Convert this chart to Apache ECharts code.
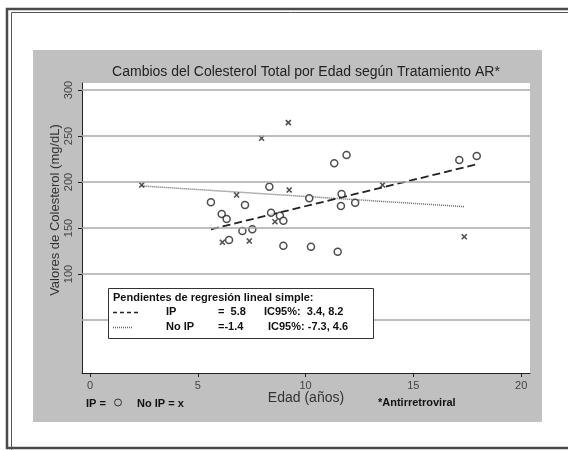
<!DOCTYPE html>
<html>
<head>
<meta charset="utf-8">
<script src="https://cdn.jsdelivr.net/npm/echarts@6/dist/echarts.min.js"></script>
<style>
  html, body { margin: 0; padding: 0; background: #fff; }
  #chart { width: 568px; height: 450px; }
</style>
</head>
<body>
<div id="chart"></div>
<script>
// puntos IP (circulos)
var ipAge  = [8.32, 10.17, 5.61, 7.19, 6.11, 6.34, 8.4, 8.81, 8.97, 7.07, 7.53, 6.45, 8.97, 10.25, 11.9, 11.33, 17.13, 17.94, 11.67, 11.64, 12.3, 11.49];
var ipChol = [194.9, 182.3, 177.9, 175, 165.2, 159.8, 166.6, 163.4, 157.9, 146.7, 148.6, 137, 130.8, 129.7, 229.3, 220.3, 223.9, 228.3, 187, 173.9, 177.5, 124.2];
// puntos No IP (x)
var noIpAge  = [9.2, 7.96, 2.4, 9.24, 6.8, 8.58, 6.14, 7.39, 13.57, 17.36];
var noIpChol = [264.5, 247.5, 196.7, 191.3, 185.9, 156.8, 134.5, 135.9, 196.7, 140.5];
// rectas de regresion (extremos)
var ipFitAge = [5.61, 17.94];
var ipFitChol = [148.6, 219.2];
var noIpFitAge = [2.4, 17.36];
var noIpFitChol = [195.7, 173.2];
// ejes
var xTicks = [0, 5, 10, 15, 20];
var yTicks = [100, 150, 200, 250, 300];
var yGrid = [50, 100, 150, 200, 250, 300];

function pairs(a, b) {
  var out = [];
  for (var i = 0; i < a.length; i++) out.push([a[i], b[i]]);
  return out;
}

var FONT = 'Liberation Sans, Arial, sans-serif';
var myChart = echarts.init(document.getElementById('chart'));

var gridLines = [];
for (var i = 0; i < yGrid.length; i++) gridLines.push({ yAxis: yGrid[i] });

var option = {
  animation: false,
  backgroundColor: '#fff',
  grid: { left: 82, top: 83, width: 448, height: 290, show: true, backgroundColor: '#fff', borderWidth: 0 },
  xAxis: {
    type: 'value', min: -0.37, max: 20.41,
    splitLine: { show: false },
    axisLine: { onZero: false, lineStyle: { color: '#222', width: 1 } },
    axisTick: { customValues: xTicks, length: 4, lineStyle: { color: '#222' } },
    axisLabel: { customValues: xTicks, color: '#444', fontSize: 11, fontFamily: FONT, margin: 7 }
  },
  yAxis: {
    type: 'value', min: -7.6, max: 307.6,
    splitLine: { show: false },
    axisLine: { show: true, onZero: false, lineStyle: { color: '#222', width: 1 } },
    axisTick: { show: true, customValues: yTicks, length: 4, lineStyle: { color: '#222' } },
    axisLabel: { customValues: yTicks, rotate: 90, color: '#444', fontSize: 11, fontFamily: FONT, margin: 8 }
  },
  series: [
    {
      type: 'line', data: [], silent: true,
      markLine: {
        silent: true, symbol: 'none', label: { show: false },
        lineStyle: { color: '#a8a8a8', width: 1.5, type: 'solid' },
        data: gridLines
      }
    },
    {
      type: 'line', data: pairs(noIpFitAge, noIpFitChol), showSymbol: false, z: 3,
      lineStyle: { color: '#666', width: 1.5, type: [1, 1] }
    },
    {
      type: 'line', data: pairs(ipFitAge, ipFitChol), showSymbol: false, z: 3,
      lineStyle: { color: '#222', width: 1.8, type: [8, 4] }
    },
    {
      type: 'scatter', data: pairs(ipAge, ipChol), symbol: 'circle', symbolSize: 7, z: 4,
      itemStyle: { color: '#fff', borderColor: '#222', borderWidth: 1.5 }
    },
    {
      type: 'scatter', data: pairs(noIpAge, noIpChol), symbol: 'path://M0,0L10,10M10,0L0,10', symbolSize: 5, z: 4,
      itemStyle: { color: 'none', borderColor: '#222', borderWidth: 1.6 }
    }
  ],
  graphic: [
    { type: 'rect', z: -10, shape: { x: 7, y: 9, width: 600, height: 439 }, style: { fill: '#fff', stroke: '#4a4a4a', lineWidth: 2.5 } },
    { type: 'rect', z: -10, shape: { x: 11.5, y: 12.5, width: 600, height: 460 }, style: { fill: 'none', stroke: '#555', lineWidth: 1 } },
    { type: 'rect', z: -9, shape: { x: 33, y: 50, width: 509, height: 372 }, style: { fill: '#c0c0c0' } },
    { type: 'text', x: 306, y: 72, style: { text: 'Cambios del Colesterol Total por Edad según Tratamiento AR*', font: '14px ' + FONT, fill: '#222', align: 'center', verticalAlign: 'middle' } },
    { type: 'text', x: 55, y: 210, rotation: Math.PI / 2, style: { text: 'Valores de Colesterol (mg/dL)', font: '13px ' + FONT, fill: '#333', align: 'center', verticalAlign: 'middle' } },
    { type: 'text', x: 306, y: 398, style: { text: 'Edad (años)', font: '14px ' + FONT, fill: '#333', align: 'center', verticalAlign: 'middle' } },
    { type: 'text', x: 86, y: 404, style: { text: 'IP =', font: 'bold 11px ' + FONT, fill: '#111', verticalAlign: 'middle' } },
    { type: 'circle', shape: { cx: 118, cy: 402.5, r: 3.5 }, style: { fill: 'none', stroke: '#333', lineWidth: 1 } },
    { type: 'text', x: 137, y: 404, style: { text: 'No IP = x', font: 'bold 11px ' + FONT, fill: '#111', verticalAlign: 'middle' } },
    { type: 'text', x: 378, y: 403, style: { text: '*Antirretroviral', font: 'bold 11px ' + FONT, fill: '#111', verticalAlign: 'middle' } },
    // recuadro de pendientes
    { type: 'rect', z: 100, shape: { x: 108.5, y: 288.5, width: 265, height: 50 }, style: { fill: '#fff', stroke: '#333', lineWidth: 1 } },
    { type: 'text', z: 101, x: 113, y: 298, style: { text: 'Pendientes de regresión lineal simple:', font: 'bold 11px ' + FONT, fill: '#111', verticalAlign: 'middle' } },
    { type: 'line', z: 101, shape: { x1: 113, y1: 312.5, x2: 140, y2: 312.5 }, style: { stroke: '#222', lineWidth: 1.5, lineDash: [4, 3] } },
    { type: 'text', z: 101, x: 166, y: 312, style: { text: 'IP', font: 'bold 11px ' + FONT, fill: '#111', verticalAlign: 'middle' } },
    { type: 'text', z: 101, x: 218, y: 312, style: { text: '=  5.8', font: 'bold 11px ' + FONT, fill: '#111', verticalAlign: 'middle' } },
    { type: 'text', z: 101, x: 264, y: 312, style: { text: 'IC95%:  3.4, 8.2', font: 'bold 11px ' + FONT, fill: '#111', verticalAlign: 'middle' } },
    { type: 'line', z: 101, shape: { x1: 113, y1: 327.5, x2: 133, y2: 327.5 }, style: { stroke: '#666', lineWidth: 1.5, lineDash: [1, 1] } },
    { type: 'text', z: 101, x: 166, y: 327, style: { text: 'No IP', font: 'bold 11px ' + FONT, fill: '#111', verticalAlign: 'middle' } },
    { type: 'text', z: 101, x: 218, y: 327, style: { text: '=-1.4', font: 'bold 11px ' + FONT, fill: '#111', verticalAlign: 'middle' } },
    { type: 'text', z: 101, x: 268, y: 327, style: { text: 'IC95%: -7.3, 4.6', font: 'bold 11px ' + FONT, fill: '#111', verticalAlign: 'middle' } }
  ]
};
myChart.setOption(option);
</script>
</body>
</html>
